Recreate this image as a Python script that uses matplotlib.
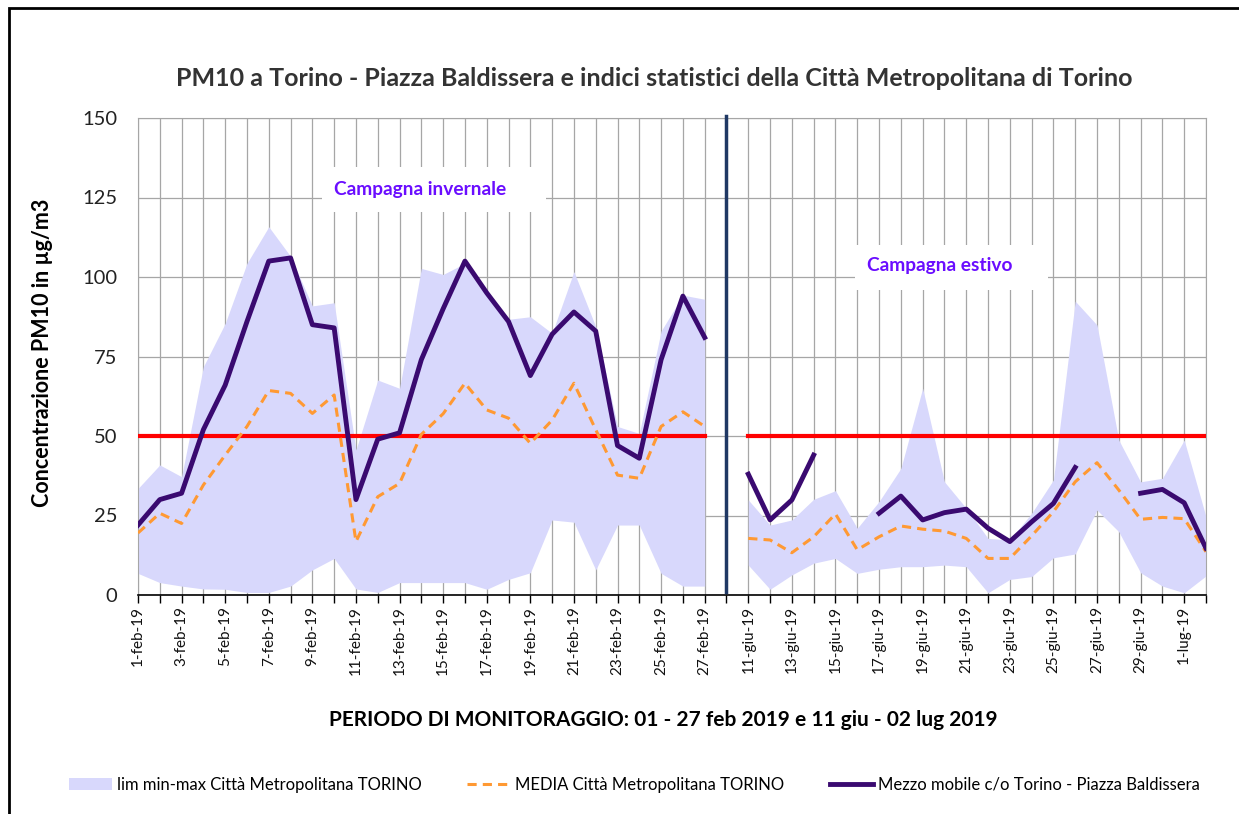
import numpy as np
import matplotlib.pyplot as plt
from matplotlib.patches import Rectangle, Patch
from matplotlib.lines import Line2D

plt.rcParams['font.family'] = ['Lato', 'DejaVu Sans']

# campagna invernale: 1 - 27 feb 2019
giorni_feb = [f"{d}-feb-19" for d in range(1, 28)]
feb_mezzo = [22, 30, 32, 52, 66, 86, 105, 106, 85, 84, 30, 49, 51, 74, 90, 105, 95, 86, 69, 82,
             89, 83, 47, 43, 74, 94, 81]
feb_media = [19.5, 25.7, 22.5, 34.6, 44, 53, 64.3, 63.4, 57.1, 62.9, 16.8, 30.9, 35.1, 50.5, 57,
             66.6, 58.2, 55.6, 47.7, 55, 66.6, 52, 37.7, 36.7, 53, 57.6, 53]
feb_max = [33.5, 40.9, 37.2, 71.8, 85.4, 104.3, 115.8, 106.5, 90.9, 91.9, 45.6, 67.6, 65, 102.7,
           100.8, 104.3, 96, 86.7, 87.5, 82.3, 101.7, 84.4, 53, 50.8, 83, 94.3, 93]
feb_min = [6.8, 3.9, 2.8, 1.9, 1.8, 0.8, 0.8, 2.8, 7.9, 11.5, 1.9, 0.8, 3.9, 3.9, 3.9, 3.9, 1.8,
           4.9, 7, 23.6, 22.9, 7.9, 22, 22, 6.8, 2.8, 2.8]

# campagna estiva: 11 giu - 2 lug 2019
giorni_est = [f"{d}-giu-19" for d in range(11, 31)] + ["1-lug-19", "2-lug-19"]
est_mezzo = [38, 23.6, 29.9, 44, np.nan, np.nan, 25.7, 31.1, 23.6, 25.9, 27, 21, 16.8, 23, 28.8,
             40.1, np.nan, np.nan, 32, 33.2, 29, 14.7]
est_media = [17.8, 17.3, 13.3, 18.3, 25.5, 14.2, 18.3, 21.7, 20.7, 20.1, 17.8, 11.5, 11.5, 18.6,
             26.2, 35.6, 41.6, 33, 23.8, 24.4, 24, 13.6]
est_max = [29.9, 22, 23.6, 30.1, 32.8, 21, 29.4, 39.8, 65, 35.6, 27.3, 17.8, 17.3, 25.7, 36.2,
           92.4, 84.9, 48.7, 35.6, 36.7, 48.7, 24.6]
est_min = [9.4, 1.8, 6.3, 10, 11.5, 6.8, 8.1, 8.9, 8.9, 9.4, 8.9, 0.7, 4.9, 5.8, 11.7, 12.9,
           26.7, 19.9, 7, 2.8, 0.7, 6]

limite = 50

c_band = '#D8D8FC'
c_media = '#FF9933'
c_mezzo = '#3A0A70'
c_lim = '#FF0000'
c_testo = '#6A0DFF'

x_feb = np.arange(len(giorni_feb))
x_est = np.arange(len(giorni_est)) + len(giorni_feb) + 1
x_sep = len(giorni_feb)
etichette = giorni_feb + [""] + giorni_est

fig = plt.figure(figsize=(12.39, 8.14), dpi=100)
ax = fig.add_axes([138 / 1239, 1 - 595 / 814, (1206 - 138) / 1239, (595 - 118) / 814])

for xs, lo, hi, med, mez in [(x_feb, feb_min, feb_max, feb_media, feb_mezzo),
                             (x_est, est_min, est_max, est_media, est_mezzo)]:
    ax.fill_between(xs, lo, hi, color=c_band, lw=0, zorder=1)
    ax.plot([xs[0], xs[-1]], [limite, limite], color=c_lim, lw=3, zorder=3)
    ax.plot(xs, med, color=c_media, lw=2.2, ls=(0, (3, 2)), zorder=4)
    ax.plot(xs, mez, color=c_mezzo, lw=3.5, zorder=5)

# separatore tra le due campagne
ax.plot([x_sep, x_sep], [1, 150.6], color='#1F3864', lw=2.5, zorder=6, clip_on=False)

# etichette campagne
ax.add_patch(Rectangle((8.44, 120.4), 10.26, 14.2, facecolor='white', edgecolor='none', zorder=2))
ax.text(9.0, 127.4, "Campagna invernale", color=c_testo, fontsize=13.8, fontweight='bold',
        va='center', ha='left', zorder=3)
ax.add_patch(Rectangle((32.9, 95.9), 8.85, 14.1, facecolor='white', edgecolor='none', zorder=2))
ax.text(33.45, 103.6, "Campagna estivo", color=c_testo, fontsize=13.8, fontweight='bold',
        va='center', ha='left', zorder=3)

ax.set_xlim(0, len(etichette) - 1)
ax.set_ylim(0, 150)
ax.set_yticks(np.arange(0, 151, 25))
ax.set_xticks(np.arange(len(etichette)))
ax.set_xticklabels([e if i % 2 == 0 else "" for i, e in enumerate(etichette)],
                   rotation=90, fontsize=11)
ax.tick_params(axis='y', length=0, pad=15, labelsize=14.5, labelcolor='#222222')
ax.tick_params(axis='x', length=6, width=1, color='black', pad=2, labelcolor='#111111')

ax.set_axisbelow(True)
ax.grid(True, color='#A6A6A6', lw=0.9)
for s in ['top', 'right', 'left']:
    ax.spines[s].set_color('#A6A6A6')
ax.spines['bottom'].set_color('black')
ax.spines['bottom'].set_linewidth(1.2)

fig.text(43 / 1239, 1 - 353 / 814, "Concentrazione PM10 in µg/m3", rotation=90,
         ha='center', va='center', fontsize=15.5, fontweight='bold')
fig.text(663 / 1239, 1 - 720 / 814, "PERIODO DI MONITORAGGIO: 01 - 27 feb 2019 e 11 giu - 02 lug 2019",
         ha='center', va='center', fontsize=15, fontweight='bold')
fig.text(654 / 1239, 1 - 78 / 814,
         "PM10 a Torino - Piazza Baldissera e indici statistici della Città Metropolitana di Torino",
         ha='center', va='center', fontsize=18, fontweight='bold', color='#333333')

handles = [Patch(facecolor=c_band, edgecolor='none'),
           Line2D([], [], color=c_media, lw=2.2, ls=(0, (3, 2))),
           Line2D([], [], color=c_mezzo, lw=3.5)]
nomi = ["lim min-max Città Metropolitana TORINO", "MEDIA Città Metropolitana TORINO",
        "Mezzo mobile c/o Torino - Piazza Baldissera"]
fig.legend(handles, nomi, loc='center', bbox_to_anchor=(0.512, 1 - 785 / 814), ncol=3,
           frameon=False, fontsize=12, handlelength=2.6, handletextpad=0.3, columnspacing=2.7)

# cornice del grafico
fig.patches.append(Rectangle((9 / 1239, -0.1), 1.2, 1 - 8 / 814 + 0.1, transform=fig.transFigure,
                             facecolor='none', edgecolor='black', lw=2))

fig.savefig("out.png", dpi=100)
